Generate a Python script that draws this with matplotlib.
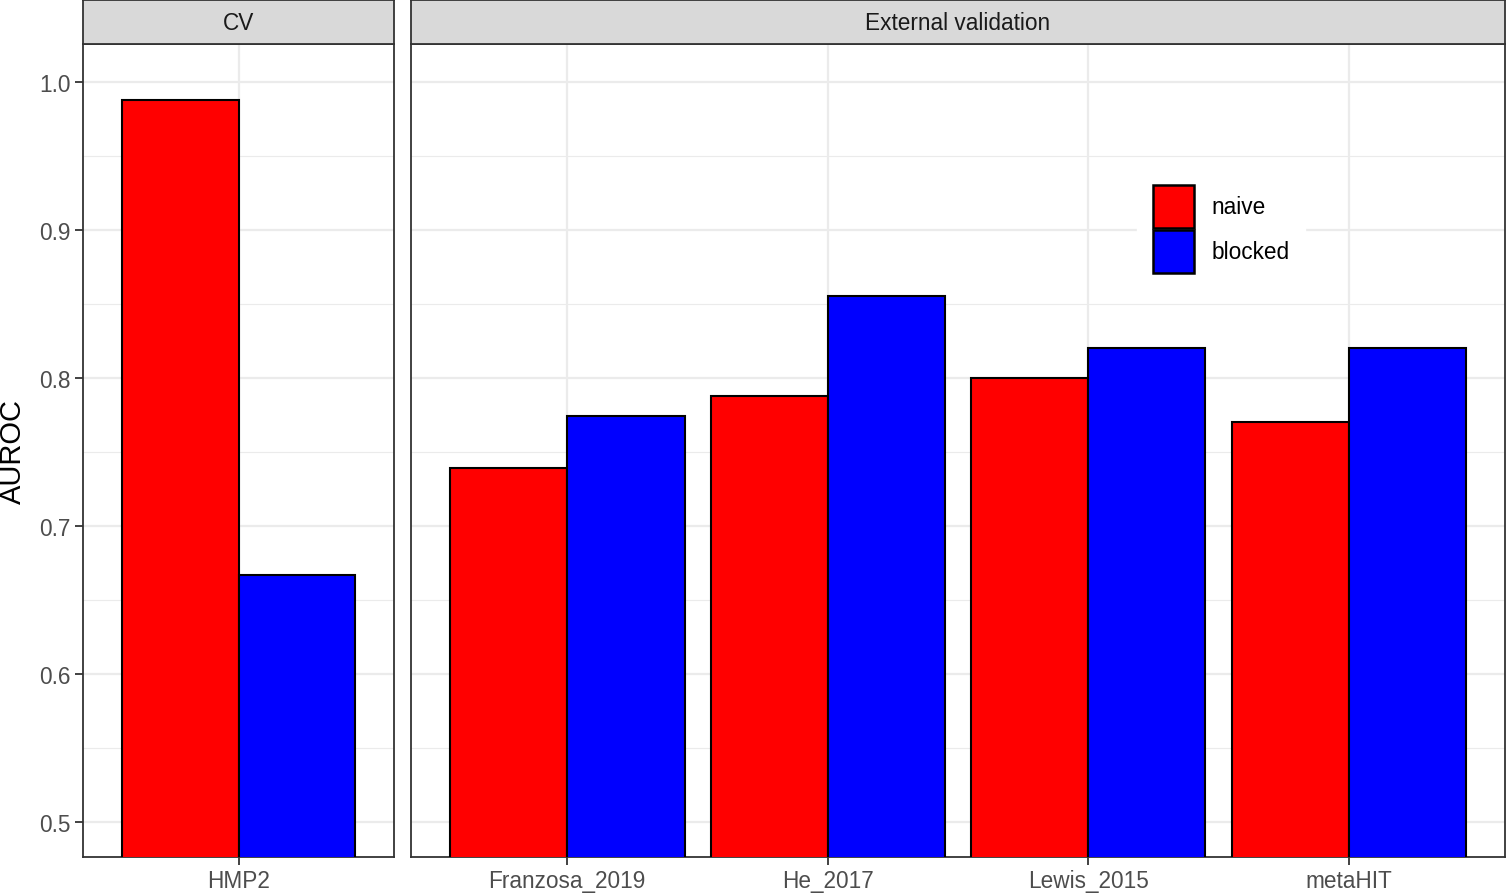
import matplotlib.pyplot as plt
from matplotlib.patches import Patch
from matplotlib.ticker import MultipleLocator

plt.rcParams['font.family'] = ['Liberation Sans', 'DejaVu Sans']

cv_datasets = ['HMP2']
cv_naive = [0.988]
cv_blocked = [0.667]

ext_datasets = ['Franzosa_2019', 'He_2017', 'Lewis_2015', 'metaHIT']
ext_naive = [0.739, 0.788, 0.800, 0.770]
ext_blocked = [0.774, 0.855, 0.820, 0.820]

facets = ['CV', 'External validation']
series = ['naive', 'blocked']
colors = {'naive': '#FF0000', 'blocked': '#0000FF'}

W, H = 1507, 895
fig = plt.figure(figsize=(W / 100, H / 100), dpi=100)


def fx(px):
    return px / W


def fy(py):
    return 1 - py / H


panel_top, panel_bot = 45, 858
ax_cv = fig.add_axes([fx(83), fy(panel_bot), fx(394 - 83), fy(panel_top) - fy(panel_bot)])
ax_ext = fig.add_axes([fx(411), fy(panel_bot), fx(1505 - 411), fy(panel_top) - fy(panel_bot)])

fs = 16.3
bw = 0.45
for ax, cats, naive, blocked, title, x0, x1 in [
    (ax_cv, cv_datasets, cv_naive, cv_blocked, facets[0], 83, 394),
    (ax_ext, ext_datasets, ext_naive, ext_blocked, facets[1], 411, 1505),
]:
    xs = list(range(len(cats)))
    ax.bar([x - bw / 2 for x in xs], naive, width=bw, color=colors['naive'],
           edgecolor='black', linewidth=1.5, zorder=3)
    ax.bar([x + bw / 2 for x in xs], blocked, width=bw, color=colors['blocked'],
           edgecolor='black', linewidth=1.5, zorder=3)
    ax.set_xlim(-0.6, len(cats) - 0.4)
    ax.set_ylim(0.476, 1.0257)
    ax.set_xticks(xs)
    ax.set_xticklabels(cats, fontsize=fs, color='#4D4D4D')
    ax.yaxis.set_major_locator(MultipleLocator(0.1))
    ax.yaxis.set_minor_locator(MultipleLocator(0.05))
    ax.grid(which='major', color='#EBEBEB', linewidth=1.6, zorder=0)
    ax.grid(which='minor', axis='y', color='#EBEBEB', linewidth=0.8, zorder=0)
    ax.tick_params(axis='both', which='major', length=6, width=1.3, color='#333333',
                   labelsize=fs, labelcolor='#4D4D4D', pad=3)
    ax.tick_params(axis='y', which='minor', length=0)
    for s in ax.spines.values():
        s.set_color('#333333')
        s.set_linewidth(1.3)
    ax.set_axisbelow(True)
    # facet strip
    sax = fig.add_axes([fx(x0), fy(panel_top), fx(x1 - x0), fy(1) - fy(panel_top)])
    sax.set_facecolor('#D9D9D9')
    sax.set_xticks([])
    sax.set_yticks([])
    for s in sax.spines.values():
        s.set_color('#333333')
        s.set_linewidth(1.3)
    sax.text(0.5, 0.5, title, ha='center', va='center', fontsize=fs,
             color='#1A1A1A', transform=sax.transAxes)

ax_cv.set_yticklabels([f'{v:.1f}' for v in ax_cv.get_yticks()])
ax_ext.tick_params(axis='y', which='both', left=False, labelleft=False)
fig.text(fx(13), fy((panel_top + panel_bot) / 2), 'AUROC', rotation=90,
         ha='center', va='center', fontsize=21, color='black')

handles = [Patch(facecolor=colors[s], edgecolor='black', linewidth=1.8) for s in series]
leg = fig.legend(handles, series, loc='center', bbox_to_anchor=(fx(1221), fy(230)),
                 fontsize=fs, frameon=True, fancybox=False, framealpha=1,
                 edgecolor='white', handlelength=1.85, handleheight=2.5,
                 handletextpad=0.75, labelspacing=0.12, borderpad=0.7)

fig.savefig('out.png', dpi=100)
